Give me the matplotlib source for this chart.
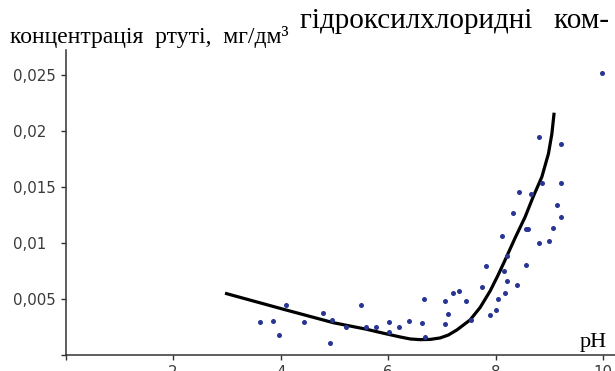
import matplotlib
matplotlib.use('Agg')
import matplotlib.pyplot as plt

# ---- data ----
ph = [3.62, 3.85, 3.98, 4.11, 4.44, 4.78, 4.92, 4.96, 5.22, 5.49, 5.59, 5.78,
      6.01, 6.01, 6.21, 6.38, 6.63, 6.66, 6.69, 7.05, 7.05, 7.11, 7.20, 7.31,
      7.45, 7.54, 7.74, 7.82, 7.89, 8.00, 8.05, 8.12, 8.16, 8.18, 8.21, 8.22,
      8.32, 8.40, 8.44, 8.56, 8.56, 8.61, 8.66, 8.80, 8.80, 8.87, 9.00, 9.07,
      9.14, 9.21, 9.21, 9.22, 9.98]
conc = [0.00292, 0.00306, 0.00174, 0.00442, 0.00292, 0.00378, 0.00110, 0.00313,
        0.00247, 0.00444, 0.00247, 0.00247, 0.00292, 0.00201, 0.00248, 0.00305,
        0.00283, 0.00497, 0.00161, 0.00485, 0.00273, 0.00368, 0.00549, 0.00571,
        0.00485, 0.00315, 0.00603, 0.00796, 0.00355, 0.00400, 0.00497, 0.01061,
        0.00752, 0.00551, 0.00880, 0.00661, 0.01262, 0.00623, 0.01455, 0.00805,
        0.01122, 0.01122, 0.01435, 0.00997, 0.01944, 0.01530, 0.01016, 0.01134,
        0.01338, 0.01232, 0.01881, 0.01538, 0.02515]

trend_ph = [2.967, 4.052, 4.982, 5.604, 5.851, 6.223, 6.41, 6.595, 6.78,
            6.967, 7.12, 7.278, 7.526, 7.712, 7.898, 8.047, 8.177, 8.363,
            8.549, 8.698, 8.860, 8.982, 9.046, 9.088]
trend_conc = [0.00551, 0.00408, 0.00288, 0.00229, 0.00201, 0.00161, 0.00143,
              0.00137, 0.00139, 0.00152, 0.00178, 0.00223, 0.00313, 0.00424,
              0.00571, 0.00714, 0.00848, 0.01045, 0.01232, 0.01411, 0.01589,
              0.01795, 0.01973, 0.02161]

yticks = [0, 0.005, 0.01, 0.015, 0.02, 0.025]
ytick_labels = ['', '0,005', '0,01', '0,015', '0,02', '0,025']
xticks = [0, 2, 4, 6, 8, 10]
xtick_labels = ['', '2', '4', '6', '8', '10']

y_title = 'концентрація  ртуті,  мг/дм³'
page_text = 'гідроксилхлоридні   ком-'
x_title = 'pH'

# ---- figure ----
W, H = 615, 371
fig = plt.figure(figsize=(W / 100, H / 100), dpi=100)
ax = fig.add_axes([65.5 / W, 16 / H, 1 - 65.5 / W, 305 / H])
ax.set_xlim(0, 10.22)
ax.set_ylim(0, 0.0272)

axis_col = '#333333'
for s in ['top', 'right']:
    ax.spines[s].set_visible(False)
for s in ['left', 'bottom']:
    ax.spines[s].set_color(axis_col)
    ax.spines[s].set_linewidth(1.1)
    ax.spines[s].set_zorder(1)

ax.plot(trend_ph, trend_conc, color='black', lw=2.3, solid_capstyle='butt',
        solid_joinstyle='round', zorder=3)
ax.scatter(ph, conc, s=13, color='#283593', marker='o', linewidths=0,
           zorder=4, clip_on=False)

ax.set_yticks(yticks)
ax.set_yticklabels(ytick_labels)
ax.set_xticks(xticks)
ax.set_xticklabels(xtick_labels)
ax.tick_params(axis='both', direction='out', length=3.6, width=1.0,
               color=axis_col, labelcolor='#3a3a3a', labelsize=10.8)
ax.tick_params(axis='y', pad=34)
for lab in ax.get_yticklabels():
    lab.set_horizontalalignment('left')
ax.tick_params(axis='x', pad=3.5)

fig.text(10 / W, 1 - 43 / H, y_title, family='Liberation Serif', fontsize=17,
         va='baseline', ha='left', color='black')
fig.text(300 / W, 1 - 28.5 / H, page_text, family='Liberation Serif',
         fontsize=21, va='baseline', ha='left', color='black')
fig.text(580 / W, 1 - 347 / H, x_title, family='Liberation Serif', fontsize=16,
         va='baseline', ha='left', color='black')

fig.savefig('out.png', dpi=100)
